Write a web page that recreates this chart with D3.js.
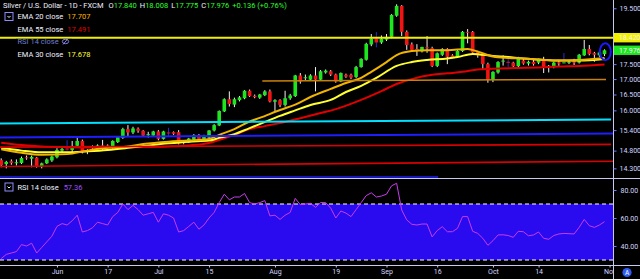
<!DOCTYPE html>
<html>
<head>
<meta charset="utf-8">
<script src="https://cdn.jsdelivr.net/npm/d3@7"></script>
<style>
  html, body { margin: 0; padding: 0; background: #000; }
  svg { display: block; font-family: Roboto, "DejaVu Sans", sans-serif; }
</style>
</head>
<body>
<svg id="chart"></svg>
<script>
// daily candles, index 0 = 17 May 2019 ... index 119 = 31 Oct 2019
const opens  = [14.53,14.42,14.50,14.46,14.45,14.61,14.57,14.60,14.34,14.44,14.52,14.61,14.80,14.86,14.82,14.94,15.08,14.76,14.80,14.83,
                14.95,14.95,14.88,15.05,15.17,15.43,15.33,15.44,15.38,15.27,15.24,15.36,15.14,15.33,15.34,15.34,15.02,15.04,15.12,15.25,
                15.12,15.18,15.39,15.54,15.97,16.35,16.18,16.32,16.38,16.62,16.46,16.40,16.48,16.60,16.27,16.32,16.17,16.38,16.45,17.12,
                17.05,16.98,17.12,16.98,17.22,17.26,17.15,16.92,17.14,17.14,17.07,17.40,17.65,18.18,18.38,18.25,18.35,18.45,19.22,19.59,
                18.63,18.18,18.02,17.94,18.08,18.05,17.44,17.82,18.02,17.80,17.76,17.95,18.63,18.63,17.92,17.82,17.50,16.97,17.22,17.60,
                17.58,17.55,17.43,17.62,17.52,17.58,17.55,17.64,17.42,17.40,17.56,17.55,17.55,17.60,17.55,17.80,18.02,17.88,17.80,17.840];
const highs  = [14.58,14.51,14.55,14.55,14.63,14.66,14.66,14.62,14.46,14.58,14.66,14.87,14.92,15.10,15.08,15.20,15.12,14.84,14.95,14.98,
                15.11,14.98,15.10,15.22,15.47,15.55,15.50,15.48,15.40,15.35,15.38,15.40,15.38,15.47,15.36,15.40,15.10,15.17,15.28,15.28,
                15.26,15.40,15.58,16.00,16.38,16.60,16.40,16.45,16.64,16.66,16.50,16.52,16.64,16.66,16.35,16.35,16.62,16.52,17.14,17.20,
                17.15,17.16,17.40,17.30,17.32,17.30,17.18,17.22,17.18,17.18,17.44,17.70,18.24,18.55,18.62,18.50,18.55,19.28,19.65,19.62,
                18.68,18.25,18.19,18.10,18.48,18.10,17.90,18.05,18.05,17.84,17.98,18.66,18.73,18.66,17.96,17.85,17.55,17.26,17.60,17.80,
                17.70,17.58,17.75,17.68,17.62,17.64,17.68,17.75,17.47,17.58,17.62,17.88,17.62,17.68,17.85,18.34,18.16,17.92,17.95,18.008];
const lows   = [14.33,14.30,14.40,14.38,14.42,14.54,14.33,14.32,14.30,14.42,14.48,14.58,14.76,14.80,14.75,14.90,14.72,14.70,14.76,14.80,
                14.80,14.86,14.85,15.02,15.14,15.22,15.28,15.32,15.20,15.18,15.20,15.10,15.12,15.20,15.26,14.98,14.98,15.02,15.10,15.10,
                15.08,15.16,15.36,15.52,15.95,16.12,16.10,16.28,16.35,16.42,16.38,16.36,16.45,16.25,15.98,16.10,16.12,16.33,16.42,16.85,
                16.95,16.95,16.60,16.95,17.18,17.10,16.88,16.90,17.04,17.00,17.03,17.38,17.62,18.12,18.08,18.20,18.30,18.40,19.18,18.48,
                17.99,17.92,17.78,17.90,17.89,17.40,17.40,17.78,17.50,17.70,17.72,17.92,18.22,17.86,17.72,17.30,16.88,16.90,17.18,17.45,
                17.40,17.40,17.40,17.48,17.45,17.45,17.50,17.20,17.22,17.36,17.42,17.52,17.50,17.47,17.52,17.78,17.80,17.58,17.75,17.775];
const closes = [14.39,14.48,14.45,14.47,14.59,14.58,14.62,14.34,14.44,14.55,14.63,14.82,14.85,14.84,14.93,15.08,14.76,14.80,14.84,14.95,
                14.94,14.90,15.08,15.20,15.43,15.33,15.45,15.38,15.24,15.28,15.36,15.14,15.36,15.31,15.29,15.01,15.07,15.15,15.25,15.14,
                15.22,15.39,15.55,15.98,16.35,16.20,16.35,16.41,16.62,16.45,16.42,16.50,16.60,16.28,16.32,16.17,16.38,16.47,17.12,16.92,
                17.06,17.12,16.98,17.26,17.28,17.15,16.92,17.20,17.08,17.05,17.40,17.68,18.20,18.38,18.25,18.38,18.45,19.25,19.59,18.63,
                18.16,17.99,18.00,18.09,18.05,17.44,17.87,18.02,17.75,17.74,17.95,18.63,18.60,17.90,17.80,17.50,16.97,17.24,17.57,17.62,
                17.55,17.43,17.72,17.52,17.58,17.50,17.64,17.41,17.44,17.55,17.52,17.56,17.58,17.55,17.82,18.02,17.85,17.82,17.90,17.976];
const blueWickDays = [13, 33, 74, 100, 111];

// EMA readings: candle index and value
const ema20Idx = [0,4,8,13,17,21,25,28,33,37,41,43,46,49,51,55,58,61,65,68,71,73,76,78,81,84,88,92,94,97,100,103,106,110,114,119];
const ema20    = [14.84,14.74,14.68,14.70,14.80,14.88,14.92,14.99,15.06,15.09,15.14,15.26,15.43,15.66,15.77,16.01,16.18,16.42,16.68,16.87,
                  17.04,17.24,17.57,17.81,17.95,17.98,17.98,18.02,17.93,17.76,17.71,17.69,17.66,17.62,17.64,17.707];
const ema30Idx = [0,4,8,13,17,21,25,28,33,37,41,43,46,49,51,55,58,61,65,68,71,74,78,81,84,88,90,93,97,100,103,106,110,114,119];
const ema30    = [14.88,14.80,14.75,14.75,14.78,14.82,14.88,14.93,15.01,15.06,15.09,15.17,15.28,15.46,15.58,15.83,16.00,16.17,16.33,16.58,
                  16.78,17.04,17.44,17.57,17.64,17.69,17.74,17.85,17.78,17.74,17.69,17.66,17.62,17.62,17.678];
const ema55Idx = [0,4,8,13,20,26,33,37,41,43,46,49,52,55,59,63,66,71,75,78,81,85,88,91,94,98,102,106,110,114,119];
const ema55    = [15.03,14.96,14.92,14.90,14.89,14.90,14.92,14.95,15.02,15.11,15.26,15.43,15.52,15.61,15.76,15.92,16.04,16.33,16.61,16.84,
                  17.00,17.14,17.19,17.24,17.32,17.35,17.37,17.39,17.42,17.44,17.491];

// RSI 14, one value per candle
const rsi14 = [31,34,35,36,41,40,42,35,39,43,47,54,56,55,58,62,50,51,53,57,
               56,55,61,64,70,66,69,66,62,63,64,57,63,62,60,50,51,54,57,52,
               55,60,64,71,77,73,75,75,77.5,71,70,71,72.4,61.5,62,59,62,64,74,69.5,
               70,70.5,67.6,71,71,67,60,65,63.5,61,66,71,76,78,75,75.7,77,83,84.8,65.7,
               58.6,55.5,55,55.7,55.7,46.5,51,53.8,50.2,50.2,52.6,61,61,50.5,49,45.5,40.5,43.8,47.9,48,
               47.5,46.2,50.5,50.2,47.3,47.9,50,45.5,44.8,47.5,48.6,49,48.8,48.6,53.3,59,54.5,53.3,55,57.36];

const timeTickIdx    = [11, 21, 31, 41, 54, 66, 76, 86, 97, 106, 120];
const timeTickLabels = ["Jun", "17", "Jul", "15", "Aug", "19", "Sep", "16", "Oct", "14", "Nov"];
const priceTicks = [19.5, 17.5, 17.0, 16.5, 16.0, 15.4, 14.8, 14.3];
const rsiTicks = [80, 60, 40];

// drawn lines: start index/price, end index/price
const drawStartIdx = [-1, 51.5, -1, -1, -1, -1, -1];
const drawStartP   = [18.42, 16.94, 15.60, 15.18, 14.90, 14.35, 14.06];
const drawEndIdx   = [123, 119.3, 120.3, 120.9, 120.3, 120.9, 86.2];
const drawEndP     = [18.42, 16.99, 15.72, 15.30, 14.98, 14.50, 14.06];
const drawColors   = ["#f0f000", "#c8820a", "#00e0ff", "#1e1eff", "#d80000", "#d80000", "#2020ff"];
const drawWidths   = [2, 1.5, 2, 2, 1.6, 1.6, 1.5];

const W = 640, H = 279;
const axisX = 613.5, mainBottom = 178.5, rsiBottom = 265.5;
const green = "#1ee61e", red = "#f01414", axisText = "#d4d6ff", axisLine = "#c8c8f0";

const svg = d3.select("#chart").attr("width", W).attr("height", H)
  .style("background", "#000");

const x = d3.scaleLinear().domain([0, 119]).range([1.2, 604.5]);
const y = d3.scaleLog().domain([14.022, 19.815]).range([mainBottom, 0]);
const yr = d3.scaleLinear().domain([30, 70]).range([260, 204]);

const defs = svg.append("defs");
defs.append("clipPath").attr("id", "clipMain").append("rect")
  .attr("x", 0).attr("y", 0).attr("width", axisX).attr("height", mainBottom);
defs.append("clipPath").attr("id", "clipRsi").append("rect")
  .attr("x", 0).attr("y", mainBottom + 0.5).attr("width", axisX).attr("height", rsiBottom - mainBottom - 1);
defs.append("clipPath").attr("id", "clipTime").append("rect")
  .attr("x", 0).attr("y", rsiBottom).attr("width", axisX - 0.5).attr("height", H - rsiBottom);

// ---- main pane
const main = svg.append("g").attr("clip-path", "url(#clipMain)");

const candles = main.selectAll(".candle")
  .data(d3.range(closes.length))
  .enter().append("g").attr("class", "candle");

candles.append("line")
  .attr("x1", i => x(i)).attr("x2", i => x(i))
  .attr("y1", i => y(highs[i])).attr("y2", i => y(lows[i]))
  .attr("stroke", i => blueWickDays.includes(i) ? "#2a2ad0" : "#f2f2f2")
  .attr("stroke-width", 1);

candles.append("rect")
  .attr("x", i => x(i) - 1.8)
  .attr("width", 3.6)
  .attr("y", i => y(Math.max(opens[i], closes[i])))
  .attr("height", i => Math.max(1, Math.abs(y(opens[i]) - y(closes[i]))))
  .attr("fill", i => closes[i] >= opens[i] ? green : red);

const emaLine = (idx, vals) => d3.line()
  .x((d, i) => x(idx[i])).y(d => y(d))
  .curve(d3.curveMonotoneX)(vals);

main.append("path").attr("d", emaLine(ema55Idx, ema55))
  .attr("fill", "none").attr("stroke", "#e00000").attr("stroke-width", 2);
main.append("path").attr("d", emaLine(ema30Idx, ema30))
  .attr("fill", "none").attr("stroke", "#ffff30").attr("stroke-width", 2);
main.append("path").attr("d", emaLine(ema20Idx, ema20))
  .attr("fill", "none").attr("stroke", "#f0b400").attr("stroke-width", 2);

main.selectAll(".drawing")
  .data(d3.range(drawStartP.length))
  .enter().append("line").attr("class", "drawing")
  .attr("x1", i => x(drawStartIdx[i])).attr("y1", i => y(drawStartP[i]))
  .attr("x2", i => x(drawEndIdx[i])).attr("y2", i => y(drawEndP[i]))
  .attr("stroke", i => drawColors[i]).attr("stroke-width", i => drawWidths[i]);

// highlight circle round the last candle
const last = closes.length - 1;
main.append("ellipse")
  .attr("cx", x(last) + 0.8).attr("cy", y((highs[last] + lows[last]) / 2) - 1)
  .attr("rx", 5.5).attr("ry", 8.5)
  .attr("fill", "none").attr("stroke", "#1a1aff").attr("stroke-width", 2);

// ---- legend, main pane
const legend = svg.append("g").style("font-size", "7.5px");
const header = legend.append("text").attr("x", 3).attr("y", 8).attr("fill", "#f0f0ff");
header.append("tspan").text("Silver / U.S. Dollar - 1D - FXCM");
[["O", "17.840"], ["H", "18.008"], ["L", "17.775"], ["C", "17.976"]].forEach((p, i) => {
  header.append("tspan").attr("dx", i === 0 ? 5 : 3).text(p[0]);
  header.append("tspan").attr("fill", "#2cff2c").text(p[1]);
});
header.append("tspan").attr("dx", 3).attr("fill", "#2cff2c").text("+0.136 (+0.76%)");

function chevronBox(g, bx, by) {
  g.append("rect").attr("x", bx + 0.5).attr("y", by + 0.5).attr("width", 8).attr("height", 8)
    .attr("fill", "none").attr("stroke", "#8c8cff").attr("stroke-width", 1);
  g.append("path").attr("d", `M${bx + 3},${by + 4} L${bx + 4.5},${by + 5.5} L${bx + 6},${by + 4}`)
    .attr("fill", "none").attr("stroke", "#f0f0ff").attr("stroke-width", 1);
}
chevronBox(legend, 4.5, 12);

const rows = [
  { name: "EMA 20 close", value: "17.707", color: "#ffb400", yy: 19 },
  { name: "EMA 55 close", value: "17.491", color: "#e00000", yy: 31.5 },
  { name: "RSI 14 close", value: null, color: null, yy: 44 },
  { name: "EMA 30 close", value: "17.678", color: "#ffff30", yy: 56.5 }
];
legend.append("rect").attr("x", 16).attr("y", 38.8).attr("width", 56).attr("height", 7)
  .attr("fill", "#000").attr("opacity", 0.6);
rows.forEach(r => {
  const t = legend.append("text").attr("x", 17.5).attr("y", r.yy)
    .attr("fill", r.value ? "#f0f0ff" : "#6f7cd8");
  t.append("tspan").text(r.name);
  if (r.value) t.append("tspan").attr("dx", 4).attr("fill", r.color).text(r.value);
});
// eye-slash icon for the hidden RSI row
const eye = legend.append("g").attr("stroke", "#8c8cff").attr("fill", "none").attr("stroke-width", 0.9);
eye.append("ellipse").attr("cx", 65.5).attr("cy", 41.5).attr("rx", 3.2).attr("ry", 2.2);
eye.append("line").attr("x1", 63).attr("y1", 44.5).attr("x2", 68).attr("y2", 38.5);

// ---- RSI pane
const rsiG = svg.append("g").attr("clip-path", "url(#clipRsi)");
rsiG.append("rect").attr("x", 0).attr("width", axisX)
  .attr("y", yr(70)).attr("height", yr(30) - yr(70)).attr("fill", "#2a0aee");
[70, 30].forEach(v => {
  rsiG.append("line").attr("x1", 0).attr("x2", axisX).attr("y1", yr(v)).attr("y2", yr(v))
    .attr("stroke", "#ffffff").attr("stroke-width", 1).attr("stroke-dasharray", "4,3");
});
rsiG.append("path")
  .attr("d", d3.line().x((d, i) => x(i)).y(d => yr(d))(rsi14))
  .attr("fill", "none").attr("stroke", "#c83cf0").attr("stroke-width", 1);

chevronBox(legend, 4.5, 182.5);
const rsiLeg = legend.append("text").attr("x", 17.5).attr("y", 190).attr("fill", "#f0f0ff");
rsiLeg.append("tspan").text("RSI 14 close");
rsiLeg.append("tspan").attr("dx", 5).attr("fill", "#a050ff").text("57.36");

// ---- axes and separators
svg.append("line").attr("x1", 0).attr("x2", W).attr("y1", mainBottom).attr("y2", mainBottom)
  .attr("stroke", axisLine).attr("stroke-width", 1);
svg.append("line").attr("x1", 0).attr("x2", W).attr("y1", rsiBottom).attr("y2", rsiBottom)
  .attr("stroke", axisLine).attr("stroke-width", 1);
svg.append("line").attr("x1", axisX).attr("x2", axisX).attr("y1", 0).attr("y2", H)
  .attr("stroke", axisLine).attr("stroke-width", 1);

const priceAxis = svg.append("g")
  .attr("transform", `translate(${axisX},0)`)
  .call(d3.axisRight(y).tickValues(priceTicks).tickFormat(d3.format(".3f")).tickSize(3).tickPadding(3));
const rsiAxis = svg.append("g")
  .attr("transform", `translate(${axisX},0)`)
  .call(d3.axisRight(yr).tickValues(rsiTicks).tickFormat(d3.format(".2f")).tickSize(3).tickPadding(4));
[priceAxis, rsiAxis].forEach(a => {
  a.select(".domain").remove();
  a.selectAll(".tick line").attr("stroke", "#6f7cff");
  a.selectAll(".tick text").attr("fill", axisText).style("font-size", "7px")
    .style("font-family", "Roboto, 'DejaVu Sans', sans-serif");
});

// price labels on the axis
function priceTag(p, bg, label) {
  const g = svg.append("g");
  g.append("rect").attr("x", axisX + 0.5).attr("y", y(p) - 4.7).attr("width", W - axisX).attr("height", 9.4)
    .attr("fill", bg);
  g.append("text").attr("x", 619).attr("y", y(p) + 2.5).attr("fill", "#f4f4f4")
    .style("font-size", "7px").text(label);
}
priceTag(drawStartP[0], "#f0f000", d3.format(".3f")(drawStartP[0]));
priceTag(closes[last], green, d3.format(".3f")(closes[last]));

// time axis
const timeAxis = svg.append("g")
  .attr("transform", `translate(0,${rsiBottom})`)
  .attr("clip-path", "url(#clipTimeLocal)");
defs.append("clipPath").attr("id", "clipTimeLocal").append("rect")
  .attr("x", 0).attr("y", 0).attr("width", axisX - 0.5).attr("height", H - rsiBottom);
timeAxis.call(d3.axisBottom(x).tickValues(timeTickIdx)
  .tickFormat((d, i) => timeTickLabels[i]).tickSize(2).tickPadding(2));
timeAxis.select(".domain").remove();
timeAxis.selectAll(".tick line").attr("stroke", axisLine);
timeAxis.selectAll(".tick text").attr("fill", axisText).style("font-size", "7px")
  .style("font-family", "Roboto, 'DejaVu Sans', sans-serif");

// auto-scale badge
svg.append("circle").attr("cx", 627).attr("cy", 272.5).attr("r", 4.6).attr("fill", "#2f5cf0");
svg.append("text").attr("x", 627).attr("y", 275).attr("text-anchor", "middle")
  .attr("fill", "#fff").style("font-size", "6.5px").text("A");
</script>
</body>
</html>
